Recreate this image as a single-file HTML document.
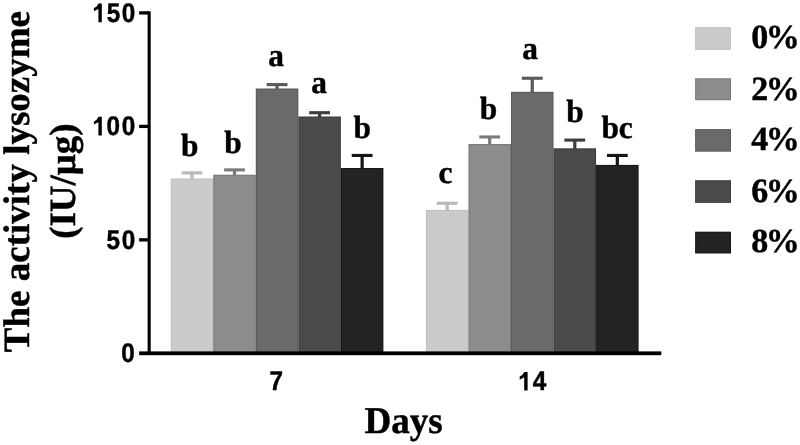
<!DOCTYPE html><html><head><meta charset="utf-8"><style>html,body{margin:0;padding:0;background:#fff;}svg{display:block;filter:grayscale(1);}text{font-weight:bold;stroke:#000;stroke-width:0.45px;text-rendering:geometricPrecision;}.s{font-family:"Liberation Sans",sans-serif;}.r{font-family:"Liberation Serif",serif;}</style></head><body>
<svg width="800" height="445" viewBox="0 0 800 445">
<rect width="800" height="445" fill="#fff"/>
<rect x="190.37" y="172.90" width="3.2" height="6.60" fill="#b9b9b9"/>
<rect x="181.57" y="171.35" width="20.8" height="3.1" fill="#b9b9b9"/>
<rect x="170.70" y="178.50" width="42.54" height="174.60" fill="#c1c1c1"/>
<rect x="171.80" y="179.60" width="40.34" height="173.50" fill="#cbcbcb"/>
<rect x="232.91" y="169.90" width="3.2" height="5.80" fill="#7a7a7a"/>
<rect x="224.11" y="168.35" width="20.8" height="3.1" fill="#7a7a7a"/>
<rect x="213.24" y="174.70" width="42.54" height="178.40" fill="#7a7a7a"/>
<rect x="214.34" y="175.80" width="40.34" height="177.30" fill="#8c8c8c"/>
<rect x="275.45" y="84.60" width="3.2" height="4.90" fill="#5a5a5a"/>
<rect x="266.65" y="83.05" width="20.8" height="3.1" fill="#5a5a5a"/>
<rect x="255.78" y="88.50" width="42.54" height="264.60" fill="#5a5a5a"/>
<rect x="256.88" y="89.60" width="40.34" height="263.50" fill="#6a6a6a"/>
<rect x="317.99" y="112.70" width="3.2" height="4.80" fill="#3c3c3c"/>
<rect x="309.19" y="111.15" width="20.8" height="3.1" fill="#3c3c3c"/>
<rect x="298.32" y="116.50" width="42.54" height="236.60" fill="#3c3c3c"/>
<rect x="299.42" y="117.60" width="40.34" height="235.50" fill="#4a4a4a"/>
<rect x="360.53" y="155.45" width="3.2" height="13.55" fill="#161616"/>
<rect x="351.73" y="153.90" width="20.8" height="3.1" fill="#161616"/>
<rect x="340.86" y="168.00" width="42.54" height="185.10" fill="#161616"/>
<rect x="341.96" y="169.10" width="40.34" height="184.00" fill="#232323"/>
<rect x="445.57" y="203.25" width="3.2" height="7.65" fill="#b9b9b9"/>
<rect x="436.77" y="201.70" width="20.8" height="3.1" fill="#b9b9b9"/>
<rect x="425.90" y="209.90" width="42.54" height="143.20" fill="#c1c1c1"/>
<rect x="427.00" y="211.00" width="40.34" height="142.10" fill="#cbcbcb"/>
<rect x="488.11" y="136.95" width="3.2" height="8.05" fill="#7a7a7a"/>
<rect x="479.31" y="135.40" width="20.8" height="3.1" fill="#7a7a7a"/>
<rect x="468.44" y="144.00" width="42.54" height="209.10" fill="#7a7a7a"/>
<rect x="469.54" y="145.10" width="40.34" height="208.00" fill="#8c8c8c"/>
<rect x="530.65" y="78.25" width="3.2" height="14.55" fill="#5a5a5a"/>
<rect x="521.85" y="76.70" width="20.8" height="3.1" fill="#5a5a5a"/>
<rect x="510.98" y="91.80" width="42.54" height="261.30" fill="#5a5a5a"/>
<rect x="512.08" y="92.90" width="40.34" height="260.20" fill="#6a6a6a"/>
<rect x="573.19" y="140.10" width="3.2" height="9.20" fill="#3c3c3c"/>
<rect x="564.39" y="138.55" width="20.8" height="3.1" fill="#3c3c3c"/>
<rect x="553.52" y="148.30" width="42.54" height="204.80" fill="#3c3c3c"/>
<rect x="554.62" y="149.40" width="40.34" height="203.70" fill="#4a4a4a"/>
<rect x="615.73" y="155.45" width="3.2" height="10.45" fill="#161616"/>
<rect x="606.93" y="153.90" width="20.8" height="3.1" fill="#161616"/>
<rect x="596.06" y="164.90" width="42.54" height="188.20" fill="#161616"/>
<rect x="597.16" y="166.00" width="40.34" height="187.10" fill="#232323"/>
<rect x="147.6" y="11.4" width="3.1" height="343.00" fill="#000"/>
<rect x="139.1" y="351.4" width="522.20" height="3.8" fill="#000"/>
<rect x="139.1" y="11.25" width="10" height="3.3" fill="#000"/>
<rect x="139.1" y="124.75" width="10" height="3.3" fill="#000"/>
<rect x="139.1" y="238.20" width="10" height="3.3" fill="#000"/>
<path transform="translate(101.8,22.2)" d="M0,-18.7 L0,0 L-3.4,0 L-3.4,-13.3 L-7.9,-10.9 L-7.9,-14.1 L-5.4,-15.5 L-3.2,-18.7 Z" fill="#000"/>
<text class="s" transform="translate(113.6,21.8) scale(0.9,1)" text-anchor="middle" font-size="27">5</text>
<text class="s" transform="translate(128.4,21.8) scale(0.9,1)" text-anchor="middle" font-size="27">0</text>
<path transform="translate(101.8,135.5)" d="M0,-18.7 L0,0 L-3.4,0 L-3.4,-13.3 L-7.9,-10.9 L-7.9,-14.1 L-5.4,-15.5 L-3.2,-18.7 Z" fill="#000"/>
<text class="s" transform="translate(113.3,135.1) scale(0.9,1)" text-anchor="middle" font-size="27">0</text>
<text class="s" transform="translate(128.4,135.1) scale(0.9,1)" text-anchor="middle" font-size="27">0</text>
<text class="s" transform="translate(113.3,248.79999999999998) scale(0.9,1)" text-anchor="middle" font-size="27">5</text>
<text class="s" transform="translate(128.4,248.79999999999998) scale(0.9,1)" text-anchor="middle" font-size="27">0</text>
<text class="s" transform="translate(128.0,362.20000000000005) scale(0.9,1)" text-anchor="middle" font-size="27">0</text>
<text class="s" transform="translate(276.3,390.20000000000005) scale(0.9,1)" text-anchor="middle" font-size="27">7</text>
<path transform="translate(527.6,390.6)" d="M0,-18.7 L0,0 L-3.4,0 L-3.4,-13.3 L-7.9,-10.9 L-7.9,-14.1 L-5.4,-15.5 L-3.2,-18.7 Z" fill="#000"/>
<text class="s" transform="translate(539.5,390.20000000000005) scale(0.9,1)" text-anchor="middle" font-size="27">4</text>
<text class="r" transform="translate(189.66,156.00) scale(0.98,1)" text-anchor="middle" font-size="32">b</text>
<text class="r" transform="translate(232.99,153.00) scale(0.98,1)" text-anchor="middle" font-size="32">b</text>
<text class="r" transform="translate(275.98,66.00) scale(0.98,1)" text-anchor="middle" font-size="32">a</text>
<text class="r" transform="translate(319.09,93.00) scale(0.98,1)" text-anchor="middle" font-size="32">a</text>
<text class="r" transform="translate(362.24,138.00) scale(0.98,1)" text-anchor="middle" font-size="32">b</text>
<text class="r" transform="translate(445.51,183.00) scale(0.98,1)" text-anchor="middle" font-size="32">c</text>
<text class="r" transform="translate(488.34,119.00) scale(0.98,1)" text-anchor="middle" font-size="32">b</text>
<text class="r" transform="translate(530.16,59.00) scale(0.98,1)" text-anchor="middle" font-size="32">a</text>
<text class="r" transform="translate(575.07,122.00) scale(0.98,1)" text-anchor="middle" font-size="32">b</text>
<text class="r" transform="translate(617.05,138.00) scale(0.98,1)" text-anchor="middle" font-size="32" letter-spacing="-0.2">bc</text>
<text class="r" transform="translate(403.5,433) scale(0.98,1)" text-anchor="middle" font-size="37.8">Days</text>
<text class="r" transform="translate(29.2,181.6) rotate(-90)" text-anchor="middle" font-size="37">The activity lysozyme</text>
<text class="r" transform="translate(75.1,181.1) rotate(-90)" text-anchor="middle" font-size="37">(IU/μg)</text>
<rect x="695.1" y="27.10" width="35.9" height="22.8" fill="#c1c1c1"/>
<rect x="696.1" y="28.10" width="33.9" height="20.8" fill="#cbcbcb"/>
<text class="r" x="751.2" y="48" font-size="34" letter-spacing="-2.4">0%</text>
<rect x="695.1" y="78.25" width="35.9" height="22.0" fill="#7a7a7a"/>
<rect x="696.1" y="79.25" width="33.9" height="20.0" fill="#8c8c8c"/>
<text class="r" x="751.2" y="100" font-size="34" letter-spacing="-2.4">2%</text>
<rect x="695.1" y="129.10" width="35.9" height="22.6" fill="#5a5a5a"/>
<rect x="696.1" y="130.10" width="33.9" height="20.6" fill="#6a6a6a"/>
<text class="r" x="751.2" y="150" font-size="34" letter-spacing="-2.4">4%</text>
<rect x="695.1" y="180.20" width="35.9" height="22.7" fill="#3c3c3c"/>
<rect x="696.1" y="181.20" width="33.9" height="20.7" fill="#4a4a4a"/>
<text class="r" x="751.2" y="202" font-size="34" letter-spacing="-2.4">6%</text>
<rect x="695.1" y="231.70" width="35.9" height="21.8" fill="#161616"/>
<rect x="696.1" y="232.70" width="33.9" height="19.8" fill="#232323"/>
<text class="r" x="751.2" y="252" font-size="34" letter-spacing="-2.4">8%</text>
</svg></body></html>
